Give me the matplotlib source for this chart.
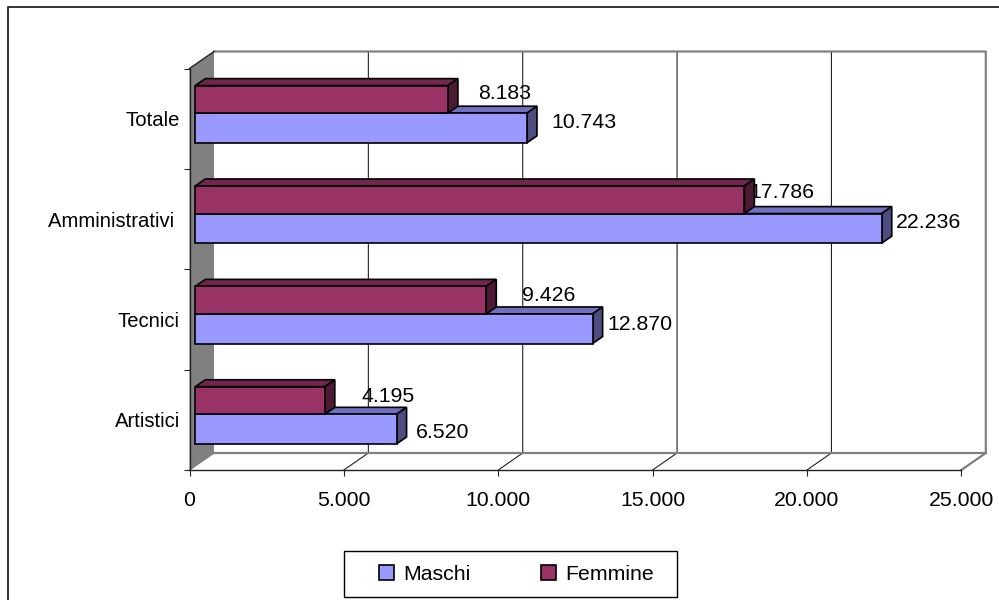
import matplotlib
matplotlib.use("Agg")
import matplotlib.pyplot as plt
from matplotlib.lines import Line2D
from matplotlib.patches import Patch, Polygon, Rectangle

plt.rcParams["font.family"] = ["Liberation Sans", "DejaVu Sans"]

# ===== DATA =====
categorie = ["Artistici", "Tecnici", "Amministrativi ", "Totale"]
maschi = [6520, 12870, 22236, 10743]
femmine = [4195, 9426, 17786, 8183]
etichette_m = ["6.520", "12.870", "22.236", "10.743"]
etichette_f = ["4.195", "9.426", "17.786", "8.183"]
x_ticks = [0, 5000, 10000, 15000, 20000, 25000]
x_labels = ["0", "5.000", "10.000", "15.000", "20.000", "25.000"]

# label nudges in pixels (the original placed them by hand)
nudge_m = [(19, -3), (15, 4), (14, 6), (24, 5)]
nudge_f = [(37, 4), (36, 5), (5, 7), (30, 6)]

# ===== GEOMETRY =====
W, H = 999, 600
LEFT, RIGHT, TOP, BOTTOM = 189.5, 961.3, 68.5, 470
DEPTH_X, DEPTH_Y = 24.5, 17
BAR_FRONT, BAR_BACK = 5.8, 15.8
BAR_BASE, BAR_H_M, BAR_H_F = 0.22, 0.295, 0.275
FS = 15.3

C_M, C_M_TOP, C_M_SIDE = "#9999FF", "#7070C0", "#4D4D80"
C_F, C_F_TOP, C_F_SIDE = "#993366", "#73264D", "#4D1A33"
GRAY = "#808080"

fig = plt.figure(figsize=(W / 100, H / 100), dpi=100)
ax = fig.add_axes([LEFT / W, 1 - BOTTOM / H, (RIGHT - LEFT) / W, (BOTTOM - TOP) / H])
ax.set_xlim(0, 25000)
ax.set_ylim(0, 4)

x_per_px = 25000 / (RIGHT - LEFT)
y_per_px = 4 / (BOTTOM - TOP)


def deep(x, y, px):
    # move a data point px pixels back into the fake 3D depth
    return x + px * x_per_px, y + px * DEPTH_Y / DEPTH_X * y_per_px


# ===== WALLS =====
a, b, c, d = (0, 0), (0, 4), deep(0, 4, DEPTH_X), deep(0, 0, DEPTH_X)
ax.add_patch(Polygon([a, b, c, d], closed=True, fc=GRAY, ec="none", zorder=1, clip_on=False))
ax.plot([a[0], d[0]], [a[1], d[1]], color=GRAY, lw=1, zorder=1, clip_on=False)
ax.plot([b[0], c[0]], [b[1], c[1]], color="#222222", lw=1, zorder=1.2, clip_on=False)

for v in x_ticks[1:-1]:
    p0, p1 = deep(v, 0, DEPTH_X), deep(v, 4, DEPTH_X)
    ax.plot([v, p0[0], p1[0]], [0, p0[1], p1[1]], color="#222222", lw=0.8, zorder=1, clip_on=False)

p0, p1, p2, p3 = deep(0, 4, DEPTH_X), deep(25000, 4, DEPTH_X), deep(25000, 0, DEPTH_X), deep(0, 0, DEPTH_X)
ax.plot([p0[0], p1[0], p2[0], 25000], [p0[1], p1[1], p2[1], 0], color=GRAY, lw=1.6, zorder=1.1, clip_on=False)
ax.plot([p3[0], p2[0]], [p3[1], p2[1]], color=GRAY, lw=1.6, zorder=1.1, clip_on=False)


# ===== BARS =====
def draw_bar(value, y0, height, face, top, side, z):
    x0, y_f = deep(0, y0, BAR_FRONT)
    x1 = x0 + value
    y1 = y_f + height
    ax.barh(y_f, value, height=height, left=x0, align="edge", color=face,
            edgecolor="black", linewidth=1.2, zorder=z + 0.2, clip_on=False)
    dx = (BAR_BACK - BAR_FRONT) * x_per_px
    dy = (BAR_BACK - BAR_FRONT) * DEPTH_Y / DEPTH_X * y_per_px
    ax.add_patch(Polygon([(x0, y1), (x0 + dx, y1 + dy), (x1 + dx, y1 + dy), (x1, y1)],
                         closed=True, fc=top, ec="black", lw=1.2, zorder=z, clip_on=False))
    ax.add_patch(Polygon([(x1, y_f), (x1 + dx, y_f + dy), (x1 + dx, y1 + dy), (x1, y1)],
                         closed=True, fc=side, ec="black", lw=1.2, zorder=z, clip_on=False))
    return x1, y_f + height / 2


for i in range(len(categorie)):
    y_base = i + BAR_BASE
    xm, ym = draw_bar(maschi[i], y_base, BAR_H_M, C_M, C_M_TOP, C_M_SIDE, 3)
    xf, yf = draw_bar(femmine[i], y_base + BAR_H_M, BAR_H_F, C_F, C_F_TOP, C_F_SIDE, 3.5)
    ax.annotate(etichette_m[i], (xm, ym), xytext=nudge_m[i], textcoords="offset pixels",
                ha="left", va="center", fontsize=FS, color="black", zorder=2.5, annotation_clip=False)
    ax.annotate(etichette_f[i], (xf, yf), xytext=nudge_f[i], textcoords="offset pixels",
                ha="left", va="center", fontsize=FS, color="black", zorder=2.5, annotation_clip=False)

# ===== AXES =====
for side in ["top", "right"]:
    ax.spines[side].set_visible(False)
for side in ["left", "bottom"]:
    ax.spines[side].set_color("#222222")
    ax.spines[side].set_linewidth(1.0)
    ax.spines[side].set_zorder(2)
ax.patch.set_visible(False)

ax.set_xticks(x_ticks)
ax.set_xticklabels(x_labels, fontsize=FS)
ax.tick_params(axis="x", length=4, width=0.8, color="#222222", pad=11)
ax.set_yticks(range(5))
ax.set_yticklabels([])
ax.tick_params(axis="y", which="major", length=4, width=0.8, color="#222222")
ax.set_yticks([i + 0.5 for i in range(4)], labels=categorie, minor=True, fontsize=14.6)
ax.tick_params(axis="y", which="minor", length=0, pad=7)

# ===== OUTER FRAME =====
fig.add_artist(Line2D([7.5 / W, 7.5 / W, 1], [0, 1 - 6.5 / H, 1 - 6.5 / H], color="#222222", lw=1.3))

# ===== LEGEND =====
fig.add_artist(Rectangle((343.5 / W, 1 - 597 / H), 333.5 / W, 46 / H, transform=fig.transFigure,
                         fc="white", ec="black", lw=1.0, zorder=1))
handles = [Patch(fc=C_M, ec="black", lw=1.2), Patch(fc=C_F, ec="black", lw=1.2)]
leg = fig.legend(handles, ["Maschi", "Femmine"], ncol=2, loc="center",
                 bbox_to_anchor=(516.5 / W, 1 - 574.5 / H), fontsize=FS, frameon=False,
                 handlelength=0.7, handleheight=0.7, handletextpad=0.4,
                 columnspacing=3.36, borderpad=0, borderaxespad=0)

fig.savefig("out.png", dpi=100)
